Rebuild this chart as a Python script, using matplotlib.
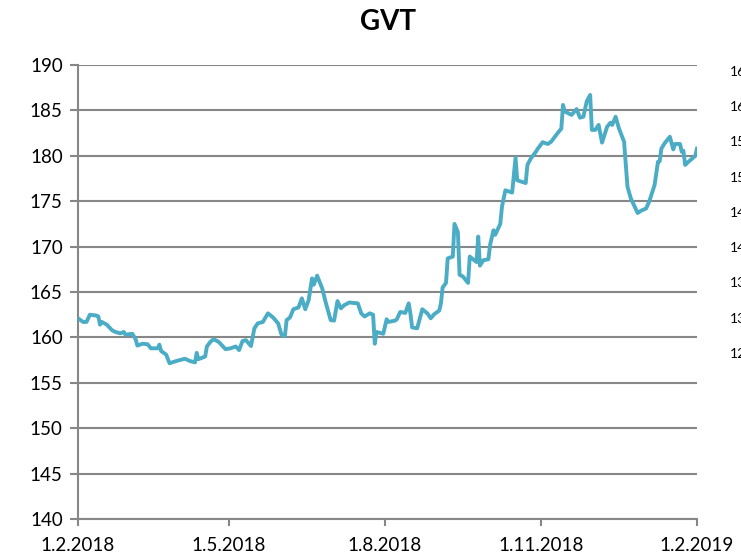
import matplotlib
matplotlib.use("Agg")
import matplotlib.pyplot as plt
import pandas as pd

plt.rcParams['font.family'] = ['Lato', 'DejaVu Sans']

# GVT price, days counted from 1.2.2018
start = pd.Timestamp("2018-02-01")
day_offsets = [
    0, 3, 5, 7, 11, 12, 13, 14, 17, 20, 22, 25, 27, 28, 32, 34, 35, 38, 41, 43,
    47, 48, 49, 52, 54, 58, 63, 66, 69, 70, 71, 75, 76, 78, 80, 83, 87, 90, 93, 95,
    97, 99, 102, 104, 106, 109, 112, 115, 118, 120, 122, 123, 125, 127, 130, 132, 134, 136, 138, 139,
    141, 144, 146, 149, 151, 153, 155, 157, 160, 162, 165, 167, 169, 172, 174, 175, 176, 180, 182, 183,
    187, 188, 190, 193, 195, 196, 197, 200, 203, 206, 208, 210, 213, 214, 215, 217, 218, 221, 222, 224,
    225, 227, 230, 231, 233, 235, 236, 237, 239, 242, 243, 245, 246, 249, 250, 252, 256, 258, 259, 264,
    265, 267, 270, 271, 274, 277, 279, 282, 285, 286, 287, 291, 294, 296, 298, 300, 302, 303, 305, 307,
    309, 312, 314, 315, 317, 319, 322, 324, 326, 330, 332, 335, 337, 340, 342, 343, 344, 346, 349, 351,
    352, 355, 356, 357, 358, 360, 364, 365,
]
prices = [
    162.1, 161.7, 161.7, 162.5, 162.4, 162.3, 161.4, 161.7, 161.4, 160.8, 160.6, 160.45, 160.6, 160.3, 160.4, 159.8, 159.1, 159.3, 159.25, 158.8,
    158.8, 159.2, 158.5, 158.1, 157.15, 157.4, 157.65, 157.4, 157.25, 158.3, 157.6, 157.9, 159.0, 159.5, 159.8, 159.5, 158.7, 158.8, 159.0, 158.6,
    159.6, 159.7, 159.05, 161.0, 161.55, 161.7, 162.65, 162.2, 161.55, 160.3, 160.15, 161.9, 162.2, 163.1, 163.3, 164.3, 163.1, 164.1, 166.5, 165.8,
    166.8, 165.4, 163.9, 161.9, 161.85, 164.0, 163.2, 163.55, 163.85, 163.8, 163.75, 162.65, 162.3, 162.65, 162.5, 159.3, 160.6, 160.4, 162.0, 161.7,
    161.85, 162.0, 162.8, 162.7, 163.75, 162.65, 161.1, 161.0, 163.1, 162.65, 162.1, 162.55, 162.95, 163.75, 165.5, 166.0, 168.7, 168.9, 172.5, 171.6,
    166.9, 166.7, 166.0, 168.9, 168.6, 168.3, 171.1, 167.9, 168.5, 168.6, 170.2, 171.8, 171.3, 172.5, 174.4, 176.2, 175.95, 179.8, 177.3, 177.0,
    179.0, 179.7, 180.45, 180.75, 181.5, 181.3, 181.55, 182.3, 183.0, 185.6, 184.9, 184.5, 185.15, 184.2, 184.3, 186.0, 186.7, 182.85, 182.85, 183.4,
    181.45, 183.2, 183.65, 183.4, 184.3, 183.0, 181.55, 176.6, 175.3, 173.7, 173.95, 174.2, 175.05, 176.8, 179.35, 179.4, 180.8, 181.4, 182.1, 180.7,
    181.3, 181.3, 180.45, 180.55, 179.0, 179.35, 180.0, 180.8,
]

y_ticks = [140, 145, 150, 155, 160, 165, 170, 175, 180, 185, 190]
x_tick_dates = ["2018-02-01", "2018-05-01", "2018-08-01", "2018-11-01", "2019-02-01"]
x_tick_labels = ["1.2.2018", "1.5.2018", "1.8.2018", "1.11.2018", "1.2.2019"]
# secondary axis of a neighbouring chart, cut off at the image edge
right_ticks = [125, 130, 135, 140, 145, 150, 155, 160, 165]

dates = start + pd.to_timedelta(day_offsets, unit="D")
grey = "#878787"

fig = plt.figure(figsize=(7.41, 5.58), dpi=100)
ax = fig.add_axes([78 / 741, 1 - 519 / 558, 619 / 741, 454 / 558])

ax.plot(dates, prices, color="#4BACC6", lw=2.8, solid_joinstyle="round", zorder=3)

ax.set_xlim(pd.Timestamp(x_tick_dates[0]), pd.Timestamp(x_tick_dates[-1]))
ax.set_ylim(y_ticks[0], y_ticks[-1])
ax.set_yticks(y_ticks)
ax.set_xticks(pd.to_datetime(x_tick_dates))
ax.set_xticklabels(x_tick_labels)

ax.grid(axis="y", color=grey, lw=1.5)
ax.set_axisbelow(True)
for s in ["top", "right"]:
    ax.spines[s].set_visible(False)
for s in ["left", "bottom"]:
    ax.spines[s].set_color(grey)
    ax.spines[s].set_linewidth(1.5)

ax.tick_params(axis="y", length=6, width=1.5, color=grey, labelsize=13.5, pad=5)
ax.tick_params(axis="x", length=5, width=1.5, color=grey, labelsize=13.5, pad=8)

ax2 = ax.twinx()
ax2.set_ylim(101.45, 165.85)
ax2.set_yticks(right_ticks)
for s in ax2.spines.values():
    s.set_visible(False)
ax2.tick_params(axis="y", length=0, labelsize=10, pad=24)

fig.text(388 / 741, 1 - 22 / 558, "GVT", ha="center", va="center",
         fontsize=20, fontweight="bold")

fig.savefig("out.png", dpi=100)
